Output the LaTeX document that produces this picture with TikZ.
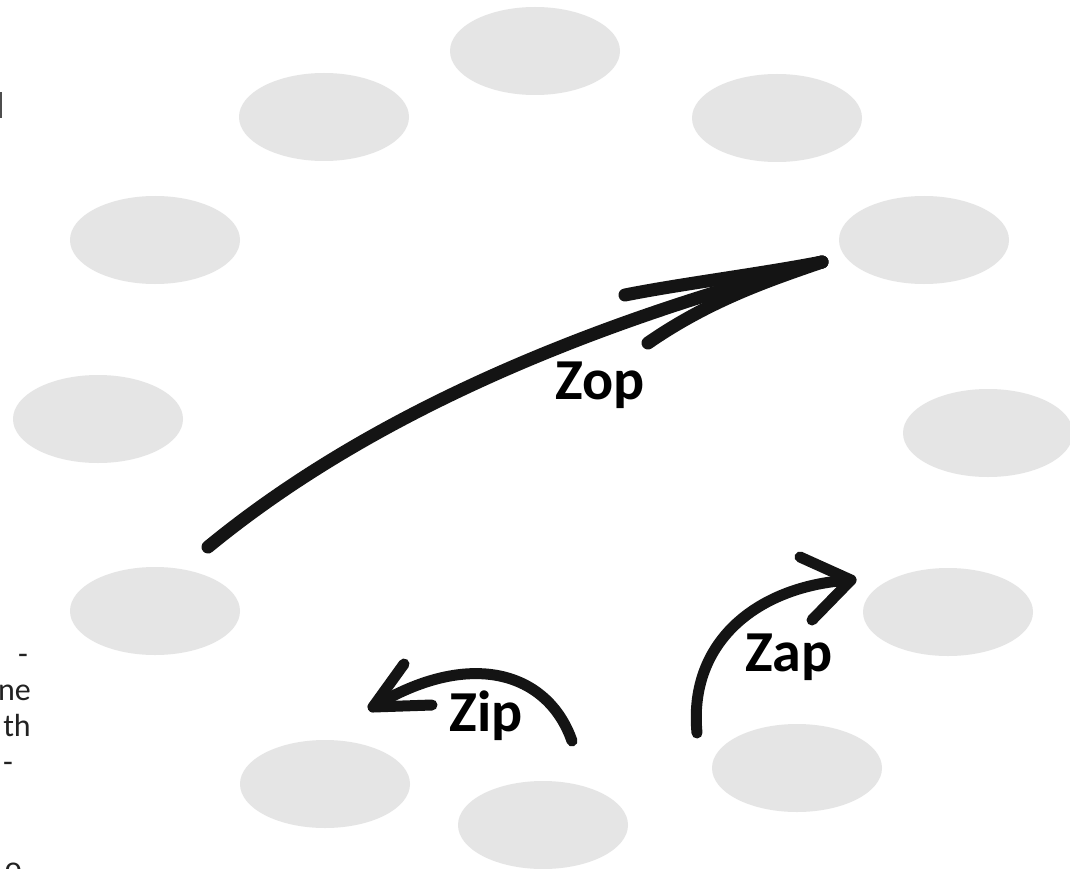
\documentclass[tikz,border=0pt]{standalone}
\usepackage{fontspec}
\setmainfont{Carlito}
\usetikzlibrary{shapes.geometric}
\definecolor{blobgray}{HTML}{E5E5E5}
\definecolor{ink}{HTML}{141414}
\definecolor{edgetext}{HTML}{222222}
\begin{document}
\begin{tikzpicture}[x=1pt,y=-1pt,
  blob/.style={ellipse, fill=blobgray, draw=none, minimum width=170pt, minimum height=88pt, inner sep=0pt},
  brush/.style={draw=ink, line width=13pt, line cap=round, line join=round},
  thinbrush/.style={draw=ink, line width=11pt, line cap=round, line join=round},
  label/.style={font=\fontsize{58}{62}\selectfont\bfseries, text=black, inner sep=0pt},
  edge text/.style={font=\fontsize{32}{36}\selectfont, text=edgetext, inner sep=0pt, anchor=base east}]
\useasboundingbox (0,0) rectangle (1070,869);
\fill[white] (0,0) rectangle (1070,869);

% ring of grey ellipses
\node[blob] (e1)  at (535,51)  {};
\node[blob] (e2)  at (324,117) {};
\node[blob] (e3)  at (777,118) {};
\node[blob] (e4)  at (155,240) {};
\node[blob] (e5)  at (924,240) {};
\node[blob] (e6)  at (98,419)  {};
\node[blob] (e7)  at (988,433) {};
\node[blob] (e8)  at (155,611) {};
\node[blob] (e9)  at (948,612) {};
\node[blob] (e10) at (325,784) {};
\node[blob] (e11) at (797,768) {};
\node[blob] (e12) at (543,825) {};

% text cut off by the left edge
\fill[edgetext!80] (0,92) rectangle (1.5,118);
\node[edge text] (t1) at (28,664) {-};
\node[edge text] (t2) at (31,700) {ne};
\node[edge text] (t3) at (31,736) {th};
\node[edge text] (t4) at (13,772) {-};
\node[edge text] (t5) at (22,878) {o};

% long arrow
\coordinate (zopTail) at (208,547);
\coordinate (zopTip)  at (822,262);
\coordinate (zopUp)   at (625,295);
\coordinate (zopLow)  at (648,343);
\draw[brush] (zopTail) .. controls (360,422) and (570,328) .. (zopTip);
\draw[brush] (zopUp) .. controls (680,284) and (760,274) .. (zopTip);
\draw[brush] (zopLow) .. controls (710,300) and (770,280) .. (zopTip);
\node[label] (zop) at (600,385) {Zop};

% left-turning arrow
\coordinate (zipTail) at (572,741);
\coordinate (zipTip)  at (373,707);
\coordinate (zipUp)   at (404,664);
\coordinate (zipLow)  at (432,705);
\draw[thinbrush] (zipTail) .. controls (548,672) and (470,648) .. (zipTip);
\draw[thinbrush] (zipUp) -- (zipTip) -- (zipLow);
\node[label] (zip) at (486,716) {Zip};

% right-turning arrow
\coordinate (zapTail) at (697,733);
\coordinate (zapTip)  at (851,580);
\coordinate (zapUp)   at (800,557);
\coordinate (zapLow)  at (812,620);
\draw[thinbrush] (zapTail) .. controls (688,640) and (760,585) .. (zapTip);
\draw[thinbrush] (zapUp) -- (zapTip) -- (zapLow);
\node[label] (zap) at (789,657) {Zap};
\end{tikzpicture}
\end{document}
